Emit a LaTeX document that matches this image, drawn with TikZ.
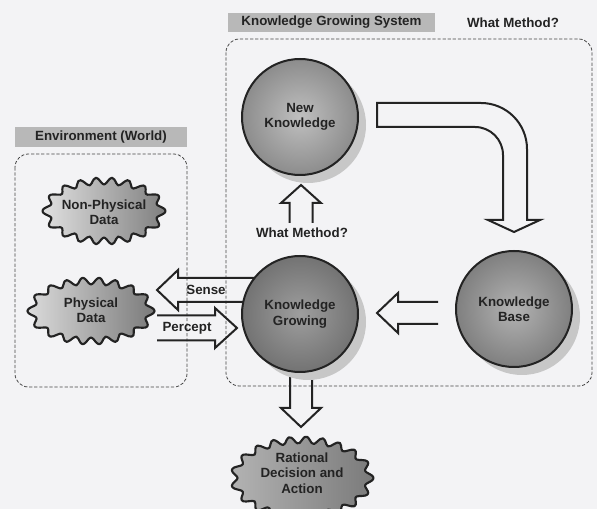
\documentclass[tikz,border=0pt]{standalone}
\usepackage{fontspec}
\setmainfont{Liberation Sans}
\usetikzlibrary{calc,shadows}

\definecolor{paper}{RGB}{243,243,245}
\definecolor{ink}{RGB}{35,35,35}
\definecolor{banner}{RGB}{184,184,184}

% wavy outline: centre x, centre y, half width, half height, bumps, samples, last angle, style
% the bump phase is stretched so the waves are spaced evenly along the rim
\newcommand\wavyblob[8]{%
  \pgfmathsetmacro\blobk{57.2958*(#3-#4)/(2*(#3+#4))}%
  \path[#8] plot[smooth cycle, samples=#6, domain=0:#7, variable=\t]
    ({#1+(#3+3.5*cos(#5*(\t-\blobk*sin(2*\t))))*cos(\t)},
     {#2+(#4+3.5*cos(#5*(\t-\blobk*sin(2*\t))))*sin(\t)});
}

\tikzset{
  lbl/.style={font=\fontsize{10pt}{11.5pt}\selectfont\bfseries, text=ink, align=center, inner sep=0pt},
  ball/.style={circle, draw=ink, line width=1.5pt, minimum size=87pt, inner sep=0pt, lbl},
  ballshadow/.style={drop shadow={shadow xshift=6pt, shadow yshift=-6pt, fill=black!22, opacity=1}},
  blockarrow/.style={draw=ink, line width=1.5pt, line join=miter},
  dashbox/.style={draw=ink!85, line width=0.6pt, dash pattern=on 2.4pt off 1.4pt, rounded corners=10pt},
  bannerbox/.style={fill=banner},
  cloudline/.style={draw=ink, line width=1.6pt, line join=round},
}

\begin{document}
\begin{tikzpicture}[x=0.75pt, y=-0.75pt]
  % page
  \fill[paper] (0,0) rectangle (597,509);
  \useasboundingbox (0,0) rectangle (597,509);
  \clip (0,0) rectangle (597,509);

  % title banners
  \fill[bannerbox] (228,13) rectangle (435,32);
  \node[lbl] (kgsTitle) at (331.5,22.5) {Knowledge Growing System};
  \node[lbl] (wmTop) at (513,22.5) {What Method?};
  \fill[bannerbox] (15,127) rectangle (187,147);
  \node[lbl] (envTitle) at (101,137) {Environment (World)};

  % dashed frames
  \draw[dashbox] (226,39) rectangle (592,386);
  \draw[dashbox] (15,154) rectangle (187,387);

  % block arrows
  \coordinate (senseTip) at (157,290);
  \draw[blockarrow] ($(senseTip)+(105,-12)$) -- ($(senseTip)+(21,-12)$) -- ($(senseTip)+(21,-20)$)
    -- (senseTip) -- ($(senseTip)+(21,20)$) -- ($(senseTip)+(21,12)$) -- ($(senseTip)+(105,12)$);
  \coordinate (perceptTip) at (237,328);
  \draw[blockarrow] ($(perceptTip)+(-80,-12.5)$) -- ($(perceptTip)+(-22,-12.5)$) -- ($(perceptTip)+(-22,-20)$)
    -- (perceptTip) -- ($(perceptTip)+(-22,20)$) -- ($(perceptTip)+(-22,12.5)$) -- ($(perceptTip)+(-80,12.5)$);
  \coordinate (baseTip) at (377,313);
  \draw[blockarrow] ($(baseTip)+(61,-11)$) -- ($(baseTip)+(21,-11)$) -- ($(baseTip)+(21,-20)$)
    -- (baseTip) -- ($(baseTip)+(21,20)$) -- ($(baseTip)+(21,11)$) -- ($(baseTip)+(61,11)$);
  \coordinate (upTip) at (301,185);
  \draw[blockarrow] ($(upTip)+(-11.5,38)$) -- ($(upTip)+(-11.5,18)$) -- ($(upTip)+(-20,18)$)
    -- (upTip) -- ($(upTip)+(20,18)$) -- ($(upTip)+(11.5,18)$) -- ($(upTip)+(11.5,38)$);
  \coordinate (downTip) at (301,427);
  \draw[blockarrow] ($(downTip)+(-11,-67)$) -- ($(downTip)+(-11,-19)$) -- ($(downTip)+(-20,-19)$)
    -- (downTip) -- ($(downTip)+(20,-19)$) -- ($(downTip)+(11,-19)$) -- ($(downTip)+(11,-67)$);
  % bent arrow from new knowledge down to the knowledge base
  \coordinate (bendTail) at (377,103);
  \coordinate (bendTip) at (514,232);
  \draw[blockarrow] (bendTail) -- (481,103) arc[start angle=-90, end angle=0, radius=46]
    -- (527,220) -- (540,220) -- (bendTip) -- (488,220) -- (503,220) -- (503,155)
    arc[start angle=0, end angle=-90, radius=28] -- (377,127) -- cycle;

  % labels on arrows
  \node[lbl] (senseLbl) at (206,290) {Sense};
  \node[lbl] (perceptLbl) at (187,328) {Percept};
  \node[lbl] (wmMid) at (302,233) {What Method?};

  % data clouds
  \wavyblob{104}{211}{58}{30}{18}{144}{357.5}{cloudline, shading angle=60, left color=black!12, right color=black!50}
  \node[lbl] (npd) at (104,212) {Non-Physical\\Data};
  \wavyblob{91}{311}{60}{30}{18}{144}{357.5}{cloudline, shading angle=60, left color=black!14, right color=black!52}
  \node[lbl] (pd) at (91,310) {Physical\\Data};
  \wavyblob{302}{478}{68}{38}{21}{168}{357.857}{cloudline, left color=black!30, right color=black!52}
  \node[lbl] (rda) at (302,473) {Rational\\Decision and\\Action};

  % knowledge spheres
  \node[ball, ballshadow, inner color=black!25, outer color=black!45] (nk) at (300,117) {New\\Knowledge};
  \node[ball, ballshadow, inner color=black!38, outer color=black!55] (kg) at (300,314) {Knowledge\\Growing};
  \node[ball, ballshadow, inner color=black!30, outer color=black!50] (kb) at (514,309) {Knowledge\\Base};
\end{tikzpicture}
\end{document}
